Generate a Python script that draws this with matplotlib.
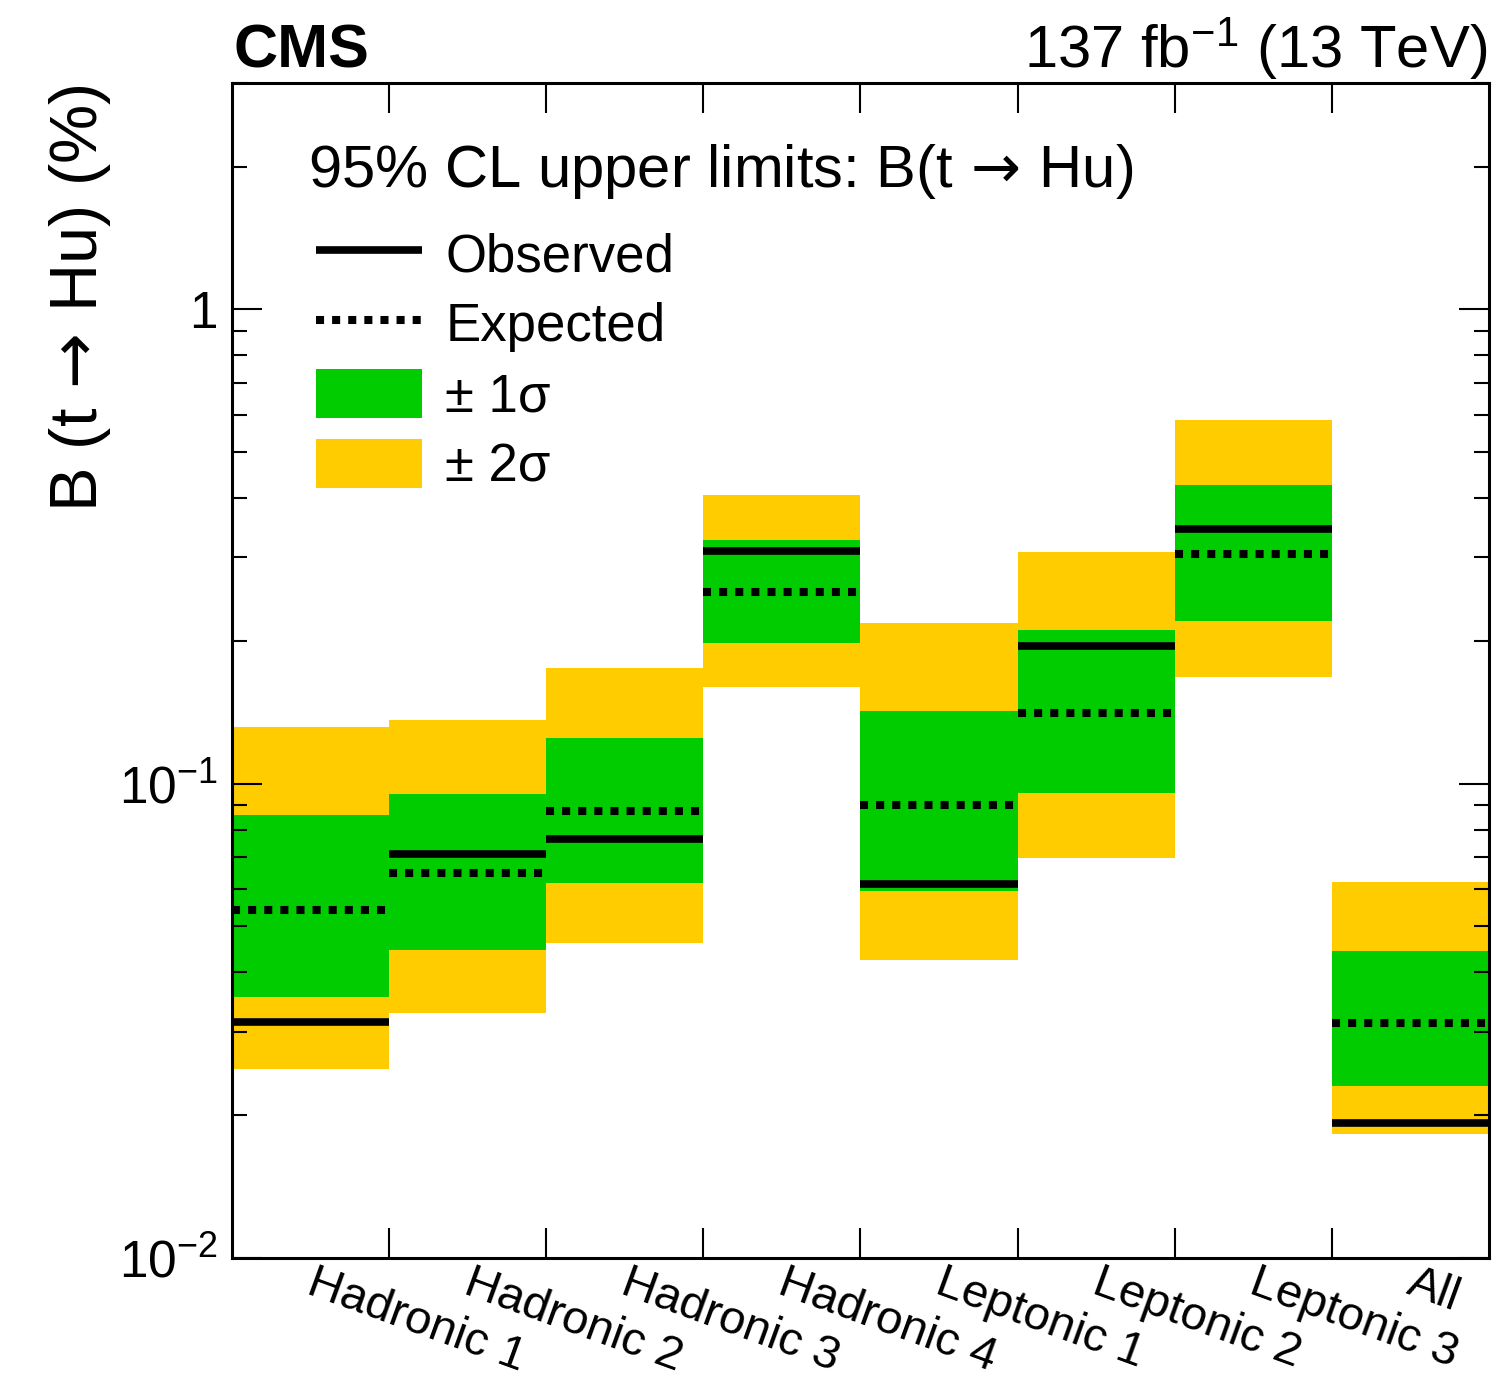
import numpy as np
import matplotlib.pyplot as plt
from matplotlib.lines import Line2D
from matplotlib.patches import Patch
from matplotlib.transforms import ScaledTranslation
from matplotlib.ticker import FixedLocator, FuncFormatter, LogLocator, NullFormatter

plt.rcParams['font.family'] = ['Liberation Sans', 'DejaVu Sans']
plt.rcParams['mathtext.fontset'] = 'custom'
plt.rcParams['mathtext.rm'] = 'Liberation Sans'
plt.rcParams['mathtext.it'] = 'Liberation Sans:italic'
plt.rcParams['mathtext.bf'] = 'Liberation Sans:bold'
plt.rcParams['mathtext.sf'] = 'DejaVu Sans'

# 95% CL upper limits on B(t -> Hu) in %
categories = ['Hadronic 1', 'Hadronic 2', 'Hadronic 3', 'Hadronic 4',
              'Leptonic 1', 'Leptonic 2', 'Leptonic 3', 'All']
observed = [0.0314, 0.0710, 0.0764, 0.309, 0.0614, 0.195, 0.344, 0.0193]
expected = [0.0541, 0.0648, 0.0875, 0.253, 0.0901, 0.141, 0.305, 0.0313]
sig1_lo = [0.0355, 0.0446, 0.0617, 0.198, 0.0593, 0.0955, 0.220, 0.0230]
sig1_hi = [0.0859, 0.0951, 0.1247, 0.327, 0.142, 0.211, 0.426, 0.0444]
sig2_lo = [0.0250, 0.0328, 0.0461, 0.160, 0.0425, 0.0697, 0.168, 0.0183]
sig2_hi = [0.1315, 0.136, 0.175, 0.406, 0.218, 0.308, 0.583, 0.0620]

green = '#00cc00'
yellow = '#ffcc00'
arrow = r'$\mathsf{\,\rightarrow\,}$'

x = np.arange(len(categories))

fig = plt.figure(figsize=(14.97, 13.81), dpi=100)
ax = fig.add_axes([232/1497, 1-1258/1381, 1257/1497, 1175/1381])

ax.bar(x, np.array(sig2_hi) - np.array(sig2_lo), bottom=sig2_lo, width=1,
       align='edge', color=yellow, linewidth=0)
ax.bar(x, np.array(sig1_hi) - np.array(sig1_lo), bottom=sig1_lo, width=1,
       align='edge', color=green, linewidth=0)
for i in x:
    ax.plot([i, i+1], [observed[i], observed[i]], color='black', lw=5.5,
            solid_capstyle='butt')
    ax.plot([i, i+1], [expected[i], expected[i]], color='black', lw=5.8,
            linestyle=(0, (1, 1)), dash_capstyle='butt')

ax.set_yscale('log')
ax.set_ylim(0.01, 3)
ax.set_xlim(0, len(categories))

def yfmt(v, pos):
    if abs(v - 1) < 1e-9:
        return '1'
    return r'$10^{%d}$' % round(np.log10(v))

ax.yaxis.set_major_locator(FixedLocator([0.01, 0.1, 1]))
ax.yaxis.set_major_formatter(FuncFormatter(yfmt))
ax.yaxis.set_minor_locator(LogLocator(subs=np.arange(2, 10)))
ax.yaxis.set_minor_formatter(NullFormatter())
ax.tick_params(axis='y', which='both', direction='in', left=True, right=True,
               width=1.5, labelsize=37, pad=10)
ax.tick_params(axis='y', which='major', length=21.6)
ax.tick_params(axis='y', which='minor', length=10.8)

ax.set_xticks(np.arange(1, len(categories)))
ax.set_xticklabels([])
ax.tick_params(axis='x', which='major', direction='in', top=True, bottom=True,
               length=21.6, width=1.5)
ax.set_xticks(x + 0.5, minor=True)
ax.set_xticklabels(categories, minor=True, rotation=-20, ha='left', va='top',
                   rotation_mode='anchor', fontsize=34)
ax.tick_params(axis='x', which='minor', length=0, pad=2)
for lbl in ax.get_xticklabels(minor=True):
    lbl.set_transform(lbl.get_transform() + ScaledTranslation(0.06, 0, fig.dpi_scale_trans))

for s in ax.spines.values():
    s.set_linewidth(2.2)

fig.text(80/1497, 1-85/1381, 'B (t' + arrow + 'Hu) (%)', rotation=90,
         ha='center', va='top', fontsize=48)
fig.text(233/1497, 1-68/1381, 'CMS', fontweight='bold', fontsize=44,
         ha='left', va='baseline')
fig.text(1487/1497, 1-68/1381, r'137 fb$^{-1}$ (13 TeV)', fontsize=43,
         ha='right', va='baseline')

ax.text(0.0605, 0.9115, '95% CL upper limits: B(t' + arrow + 'Hu)',
        transform=ax.transAxes, fontsize=43, ha='left', va='baseline')

handles = [Line2D([], [], color='black', lw=5.5, solid_capstyle='butt'),
           Line2D([], [], color='black', lw=5.8, linestyle=(0, (1, 1)), dash_capstyle='butt'),
           Patch(facecolor=green, linewidth=0),
           Patch(facecolor=yellow, linewidth=0)]
labels = ['Observed', 'Expected', '\u00b1 1\u03c3', '\u00b1 2\u03c3']
leg = ax.legend(handles, labels, loc='upper left', bbox_to_anchor=(0.0668, 0.8757),
                frameon=False, fontsize=38, handlelength=2.0, handleheight=1.05,
                handletextpad=0.45, labelspacing=0.31, borderpad=0,
                borderaxespad=0)

plt.savefig('out.png', dpi=100)
plt.close()
